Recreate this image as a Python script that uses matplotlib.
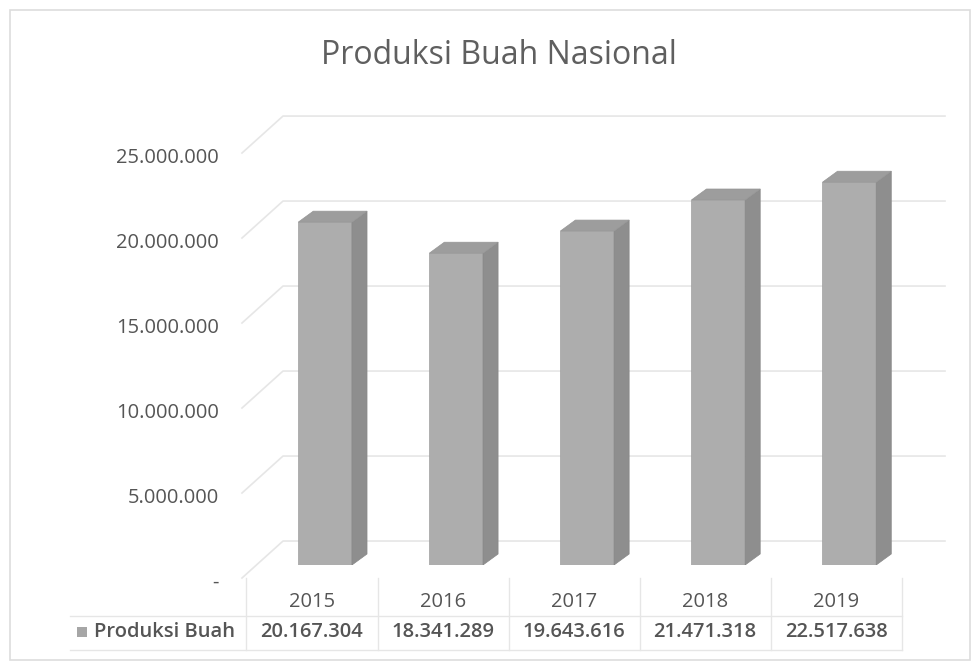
import numpy as np
import matplotlib.pyplot as plt
from matplotlib.patches import Polygon, Rectangle
from matplotlib import transforms

plt.rcParams['font.family'] = ['Open Sans', 'DejaVu Sans']

tahun = ['2015', '2016', '2017', '2018', '2019']
produksi = [20167304, 18341289, 19643616, 21471318, 22517638]
yticks = [0, 5000000, 10000000, 15000000, 20000000, 25000000]


def titik(v):
    # format ribuan pakai titik
    if v == 0:
        return '-'
    return f'{v:,}'.replace(',', '.')


W, H = 974, 662
fig = plt.figure(figsize=(W / 100, H / 100), dpi=100)
ax = fig.add_axes([245 / W, (H - 565) / H, 700 / W, 460 / H])
ax.set_xlim(-0.511, 4.83)
ax.set_ylim(0, 27060000)
for s in ax.spines.values():
    s.set_visible(False)
ax.set_xticks([])

teks = '#555555'
grid = '#e6e6e6'
fs = 14.5

# label sumbu y, digeser ke bawah ke bidang depan
ax.set_yticks(yticks)
ax.set_yticklabels([titik(v) for v in yticks], fontsize=fs, color=teks)
ax.tick_params(axis='y', length=0, pad=19)
geser = transforms.ScaledTranslation(0, -15 / 100, fig.dpi_scale_trans)
for lb in ax.get_yticklabels():
    lb.set_transform(lb.get_transform() + geser)

# garis grid dengan dinding samping miring
dyd = 11 / 17 * 1e6
for v in yticks:
    ax.plot([-0.534, -0.221, 4.83], [v - 0.765e6, v + 1.41e6, v + 1.41e6],
            color=grid, lw=1.2, clip_on=False, zorder=1)

# batang 3D: depan, samping, atas
lebar = 0.41
dx = 0.115
for i, v in enumerate(produksi):
    x0 = i + 0.1 - lebar / 2
    x1 = x0 + lebar
    ax.bar(i + 0.1, v, width=lebar, color='#adadad', edgecolor='#a0a0a0',
           lw=0.5, zorder=3)
    samping = Polygon([(x1, 0), (x1 + dx, dyd), (x1 + dx, v + dyd), (x1, v)],
                      closed=True, fc='#8e8e8e', ec='#888888', lw=0.5, zorder=3)
    atas = Polygon([(x0, v), (x0 + dx, v + dyd), (x1 + dx, v + dyd), (x1, v)],
                   closed=True, fc='#9d9d9d', ec='#969696', lw=0.5, zorder=3)
    ax.add_patch(samping)
    ax.add_patch(atas)

# tabel data di bawah grafik
tr = transforms.blended_transform_factory(ax.transData, fig.transFigure)
y_thn = (H - 602) / H
y_nil = (H - 632) / H
for i, (t, v) in enumerate(zip(tahun, produksi)):
    ax.text(i, y_thn, t, transform=tr, ha='center', va='center',
            fontsize=fs, color=teks)
    ax.text(i, y_nil, titik(v), transform=tr, ha='center', va='center',
            fontsize=fs, color=teks, fontweight='semibold')

garis_tbl = '#e6e6e6'
ax.plot([-1.85, 4.5], [(H - 616) / H] * 2, transform=tr, color=garis_tbl,
        lw=1, clip_on=False)
ax.plot([-1.85, 4.5], [(H - 650) / H] * 2, transform=tr, color=garis_tbl,
        lw=1, clip_on=False)
for b in np.arange(-0.5, 5.0, 1.0):
    ax.plot([b, b], [(H - 650) / H, (H - 578) / H], transform=tr,
            color=garis_tbl, lw=1, clip_on=False)

# kunci legenda
fig.patches.append(Rectangle((77 / W, (H - 637) / H), 10 / W, 10 / H,
                             transform=fig.transFigure, fc='#a6a6a6', ec='none'))
fig.text(94 / W, y_nil, 'Produksi Buah', ha='left', va='center',
         fontsize=fs, color=teks, fontweight='semibold')

fig.text(499 / W, (H - 56) / H, 'Produksi Buah Nasional', ha='center',
         va='center', fontsize=23, color='#5f5f5f')

# bingkai area grafik
fig.patches.append(Rectangle((10 / W, 2 / H), 960 / W, (H - 12) / H,
                             transform=fig.transFigure, fc='none',
                             ec='#dddddd', lw=1.2))

fig.savefig('out.png', dpi=100)
